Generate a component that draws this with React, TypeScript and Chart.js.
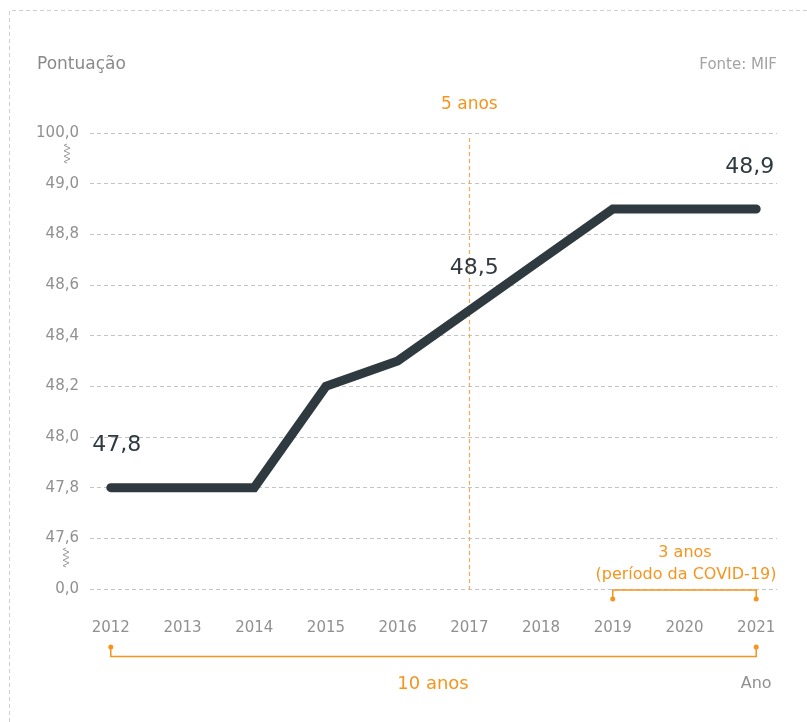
import React, { useEffect, useRef } from "react";
import { Chart, registerables } from "chart.js";

Chart.register(...registerables);

const years = [2012, 2013, 2014, 2015, 2016, 2017, 2018, 2019, 2020, 2021];
const scores = [47.8, 47.8, 47.8, 48.2, 48.3, 48.5, 48.7, 48.9, 48.9, 48.9];
const yTickValues = [47.4, 47.6, 47.8, 48.0, 48.2, 48.4, 48.6, 48.8, 49.0, 49.2];
const yTickLabels = ["0,0", "47,6", "47,8", "48,0", "48,2", "48,4", "48,6", "48,8", "49,0", "100,0"];
const labeledPoints = [
  { year: 2012, value: 47.8, text: "47,8", align: "center", dx: 6 },
  { year: 2017, value: 48.5, text: "48,5", align: "center", dx: 5 },
  { year: 2021, value: 48.9, text: "48,9", align: "right", dx: 18 },
];

const FONT = "'DejaVu Sans', 'Noto Sans', sans-serif";
const ORANGE = "#f7941e";
const DARK = "#2e3a3f";
const GRAY = "#909090";

function zigzag(ctx: CanvasRenderingContext2D, x: number, y0: number, y1: number) {
  ctx.save();
  ctx.strokeStyle = "#9a9a9a";
  ctx.lineWidth = 1;
  ctx.beginPath();
  const n = 7;
  const step = (y1 - y0) / n;
  ctx.moveTo(x, y0);
  for (let i = 0; i < n; i++) {
    const y = y0 + step * (i + 0.5);
    ctx.lineTo(i % 2 === 0 ? x - 3 : x + 3, y);
  }
  ctx.lineTo(x, y1);
  ctx.stroke();
  ctx.restore();
}

const overlay = {
  id: "overlay",
  beforeDatasetsDraw(chart: any) {
    const { ctx } = chart;
    const xs = chart.scales.x;
    const ys = chart.scales.y;
    ctx.save();
    ctx.globalAlpha = 1;
    ctx.strokeStyle = "rgb(246, 170, 80)";
    ctx.lineWidth = 1.2;
    ctx.setLineDash([4, 3]);
    const x17 = Math.round(xs.getPixelForValue(2017)) + 0.5;
    ctx.beginPath();
    ctx.moveTo(x17, 138);
    ctx.lineTo(x17, ys.bottom);
    ctx.stroke();
    ctx.restore();
  },
  afterDraw(chart: any) {
    const { ctx } = chart;
    const xs = chart.scales.x;
    const ys = chart.scales.y;
    const W = chart.width;
    const H = chart.height;

    ctx.save();
    ctx.strokeStyle = "#cfcfcf";
    ctx.lineWidth = 1;
    ctx.setLineDash([4, 3]);
    ctx.beginPath();
    ctx.moveTo(9.5, H);
    ctx.lineTo(9.5, 10.5);
    ctx.lineTo(W, 10.5);
    ctx.stroke();
    ctx.restore();

    ctx.save();
    ctx.textBaseline = "middle";
    ctx.font = `17px ${FONT}`;
    ctx.fillStyle = "#8a8a8a";
    ctx.textAlign = "left";
    ctx.fillText("Pontuação", 37, 65);
    ctx.font = `15px ${FONT}`;
    ctx.fillStyle = "#a3a3a3";
    ctx.textAlign = "right";
    ctx.fillText("Fonte: MIF", xs.right, 65);

    ctx.font = `17px ${FONT}`;
    ctx.fillStyle = ORANGE;
    ctx.textAlign = "center";
    ctx.fillText("5 anos", xs.getPixelForValue(2017), 105);

    ctx.font = `22px ${FONT}`;
    ctx.fillStyle = DARK;
    labeledPoints.forEach((p) => {
      ctx.textAlign = p.align as CanvasTextAlign;
      ctx.fillText(p.text, xs.getPixelForValue(p.year) + p.dx, ys.getPixelForValue(p.value) - 42);
    });

    zigzag(ctx, 67, 144, 163);
    zigzag(ctx, 66, 548, 567);

    const x19 = xs.getPixelForValue(2019);
    const x21 = xs.getPixelForValue(2021);
    const x12 = xs.getPixelForValue(2012);
    ctx.strokeStyle = ORANGE;
    ctx.fillStyle = ORANGE;
    ctx.lineWidth = 1.5;
    ctx.beginPath();
    ctx.moveTo(x19, 599);
    ctx.lineTo(x19, 590);
    ctx.lineTo(x21, 590);
    ctx.lineTo(x21, 599);
    ctx.stroke();
    [x19, x21].forEach((x) => {
      ctx.beginPath();
      ctx.arc(x, 599, 2.5, 0, Math.PI * 2);
      ctx.fill();
    });
    ctx.font = `16px ${FONT}`;
    ctx.textAlign = "center";
    ctx.fillText("3 anos", 685, 553);
    ctx.fillText("(período da COVID-19)", 686, 575);

    ctx.beginPath();
    ctx.moveTo(x12, 647);
    ctx.lineTo(x12, 656.5);
    ctx.lineTo(x21, 656.5);
    ctx.lineTo(x21, 647);
    ctx.stroke();
    [x12, x21].forEach((x) => {
      ctx.beginPath();
      ctx.arc(x, 647, 2.5, 0, Math.PI * 2);
      ctx.fill();
    });
    ctx.font = `18px ${FONT}`;
    ctx.fillText("10 anos", 433, 684);
    ctx.font = `16px ${FONT}`;
    ctx.fillStyle = GRAY;
    ctx.fillText("Ano", x21, 684);
    ctx.restore();
  },
};

export default function App() {
  const ref = useRef<HTMLCanvasElement>(null);
  useEffect(() => {
    document.body.style.margin = "0";
    const chart = new Chart(ref.current!, {
      type: "line",
      data: {
        datasets: [
          {
            data: years.map((y, i) => ({ x: y, y: scores[i] })),
            borderColor: DARK,
            borderWidth: 9,
            borderCapStyle: "round",
            borderJoinStyle: "miter",
            pointRadius: 0,
            tension: 0,
          },
        ],
      },
      options: {
        animation: false,
        responsive: false,
        maintainAspectRatio: false,
        layout: { padding: { top: 133, right: 30, left: 0, bottom: 0 } },
        plugins: { legend: { display: false }, tooltip: { enabled: false } },
        scales: {
          x: {
            type: "linear",
            min: 2011.71,
            max: 2021.29,
            afterBuildTicks: (s: any) => {
              s.ticks = years.map((v) => ({ value: v }));
            },
            afterFit: (s: any) => {
              s.height = 133;
            },
            grid: { display: false, drawTicks: false },
            border: { display: false },
            ticks: {
              padding: 30,
              color: GRAY,
              font: { family: FONT, size: 15 },
              callback: (v: any) => String(v),
              autoSkip: false,
              maxRotation: 0,
            },
          },
          y: {
            type: "linear",
            min: 47.4,
            max: 49.2,
            afterBuildTicks: (s: any) => {
              s.ticks = yTickValues.map((v) => ({ value: v }));
            },
            afterFit: (s: any) => {
              s.width = 90;
            },
            grid: { color: "#c4c4c4", lineWidth: 1, drawTicks: false },
            border: { display: false, dash: [4, 3] },
            ticks: {
              padding: 11,
              color: GRAY,
              font: { family: FONT, size: 15 },
              callback: (v: any) => {
                const i = yTickValues.findIndex((t) => Math.abs(t - v) < 1e-6);
                return i >= 0 ? yTickLabels[i] : "";
              },
            },
          },
        },
      },
      plugins: [overlay],
    } as any);
    return () => chart.destroy();
  }, []);
  return (
    <div style={{ width: 807, height: 722 }}>
      <canvas ref={ref} width={807} height={722} style={{ display: "block" }} />
    </div>
  );
}
